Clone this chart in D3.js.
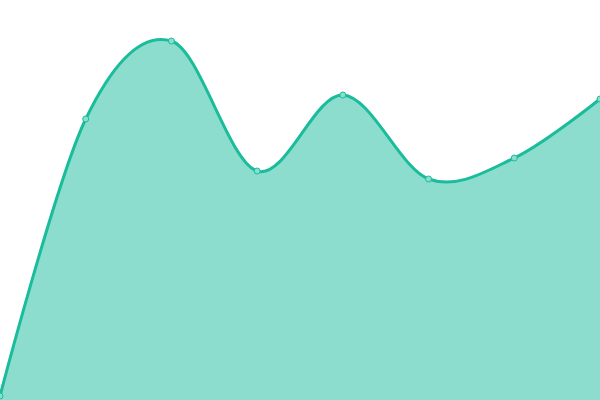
<!DOCTYPE html>
<html>
<head>
<meta charset="utf-8">
<script src="https://cdn.jsdelivr.net/npm/d3@7"></script>
<style>
  body { margin: 0; background: #fff; }
</style>
</head>
<body>
<svg id="chart"></svg>
<script>
const labels = ['1', '2', '3', '4', '5', '6', '7', '8']
const values = [4, 281, 359, 229, 305, 221, 242, 301]

const width = 600
const height = 400

const x = d3.scalePoint().domain(labels).range([0, width])
const y = d3.scaleLinear().domain([0, 400]).range([height, 0])

const svg = d3.select('#chart').attr('width', width).attr('height', height)

const area = d3.area()
  .x((d, i) => x(labels[i]))
  .y0(height)
  .y1(d => y(d))
  .curve(d3.curveCardinal)

const line = d3.line()
  .x((d, i) => x(labels[i]))
  .y(d => y(d))
  .curve(d3.curveCardinal)

svg.append('path')
  .datum(values)
  .attr('d', area)
  .attr('fill', '#1abc9c')
  .attr('fill-opacity', 0.5)

svg.append('path')
  .datum(values)
  .attr('d', line)
  .attr('fill', 'none')
  .attr('stroke', '#1abc9c')
  .attr('stroke-width', 3)

svg.selectAll('circle')
  .data(values)
  .enter()
  .append('circle')
  .attr('cx', (d, i) => x(labels[i]))
  .attr('cy', d => y(d))
  .attr('r', 3)
  .attr('fill', '#8cddcd')
  .attr('stroke', '#1abc9c')
  .attr('stroke-width', 1)
</script>
</body>
</html>
